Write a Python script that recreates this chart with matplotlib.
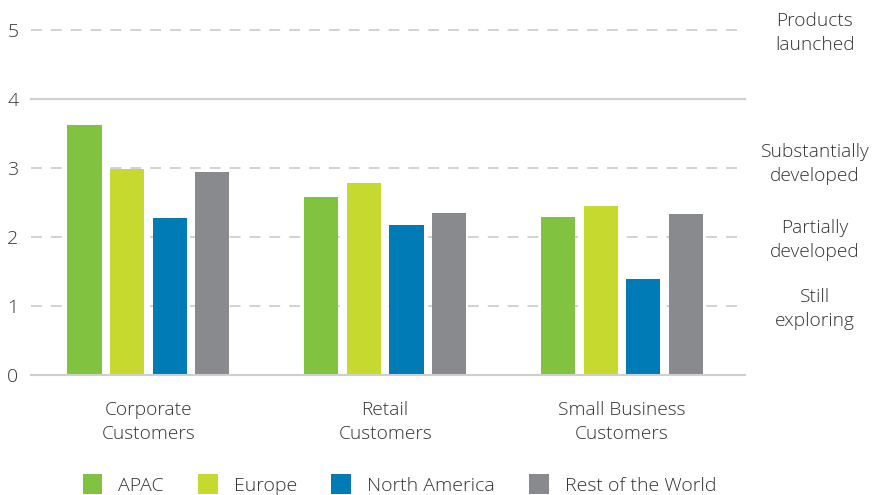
import numpy as np
import matplotlib
matplotlib.use('Agg')
import matplotlib.pyplot as plt
from matplotlib.transforms import blended_transform_factory

plt.rcParams['font.family'] = ['Open Sans', 'DejaVu Sans']
plt.rcParams['font.weight'] = 'light'

# Data
categories = ['Corporate\nCustomers', 'Retail\nCustomers', 'Small Business\nCustomers']
regions = ['APAC', 'Europe', 'North America', 'Rest of the World']
apac = [3.62, 2.58, 2.29]
europe = [2.99, 2.78, 2.45]
north_america = [2.27, 2.17, 1.39]
rest_of_world = [2.94, 2.35, 2.33]
stage_values = [5, 3, 2, 1]
stage_labels = ['Products\nlaunched', 'Substantially\ndeveloped', 'Partially\ndeveloped', 'Still\nexploring']

colors = ['#82c241', '#c5d92e', '#007bb6', '#888a8e']
text_col = '#333333'
grid_col = '#cfcfcf'

fig = plt.figure(figsize=(8.74, 4.95), dpi=100)
ax = fig.add_axes([31/874, 1 - 375/495, (745-31)/874, (375-30)/495])

x = np.arange(len(categories))
series = [apac, europe, north_america, rest_of_world]
step = 0.18
width = 0.144
for i, (vals, col, name) in enumerate(zip(series, colors, regions)):
    ax.bar(x + (i - 1.5) * step, vals, width, color=col, label=name, zorder=3)

# gridlines: solid at 0 and 4, dashed elsewhere
for yv in range(6):
    if yv in (0, 4):
        ax.axhline(yv, color=grid_col, lw=1.5, zorder=1 if yv else 4, clip_on=False)
    else:
        ax.axhline(yv, color=grid_col, lw=1.3, ls=(0, (6, 5)), zorder=1, clip_on=False)

ax.set_xlim(-0.496, 2.52)
ax.set_ylim(0, 5)
ax.set_yticks(range(6))
ax.set_yticklabels([str(v) for v in range(6)], fontsize=14, color=text_col)
ax.tick_params(axis='y', length=0, pad=9)
ax.set_xticks(x)
ax.set_xticklabels(categories, fontsize=13.8, color=text_col, linespacing=1.42)
ax.tick_params(axis='x', length=0, pad=19)
for s in ax.spines.values():
    s.set_visible(False)

# stage labels on the right (the "substantially" one sits a bit above its line)
trans = blended_transform_factory(fig.transFigure, ax.transData)
for v, lab in zip(stage_values, stage_labels):
    off = 0.06 if v == 3 else -0.04
    ax.text(815/874, v + off, lab, transform=trans, fontsize=13.8,
            color=text_col, ha='center', va='center', linespacing=1.42)

leg = fig.legend(loc='lower left', bbox_to_anchor=(65/874, -0.035), ncol=4, frameon=False,
                 fontsize=14, handlelength=1.0, handleheight=1.2, handletextpad=0.85,
                 columnspacing=1.75)
for t in leg.get_texts():
    t.set_color(text_col)

fig.savefig('out.png', dpi=100)
